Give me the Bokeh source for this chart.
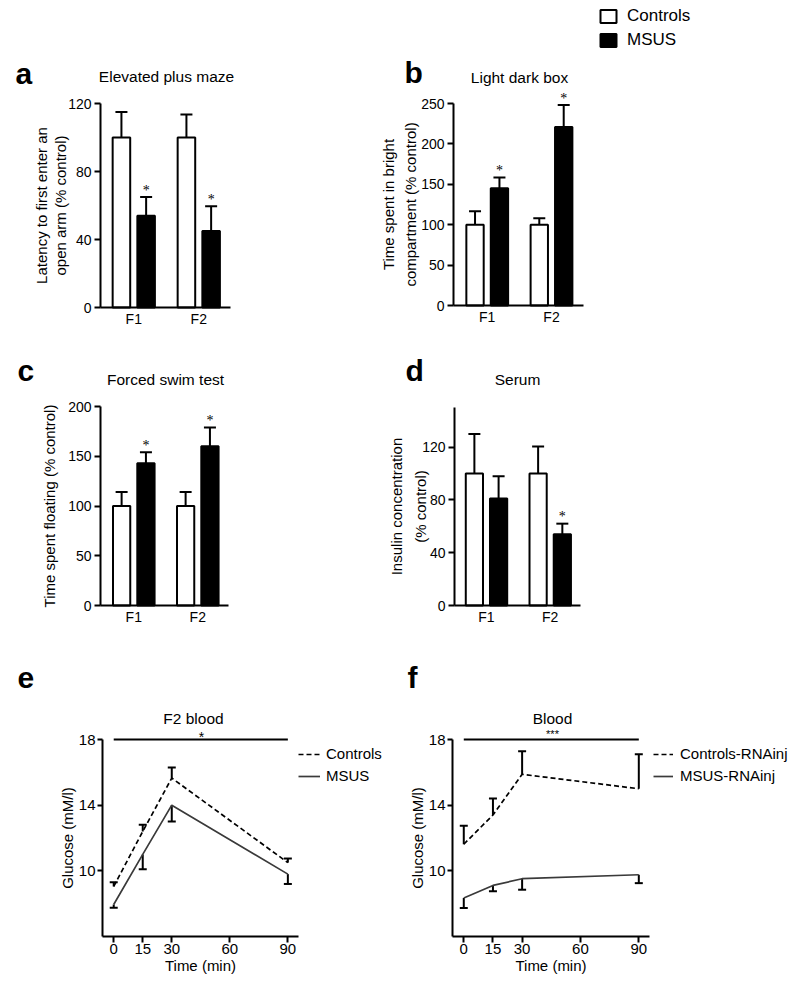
import numpy as np
from bokeh.plotting import figure
from bokeh.layouts import column, row
from bokeh.models import (ColumnDataSource, Whisker, TeeHead, LabelSet, Label, FixedTicker,
                          Legend, LegendItem, Range1d)
from bokeh.core.properties import value
from bokeh.embed import file_html
from bokeh.resources import INLINE

FONT = "Liberation Sans"

# ---------------- data ----------------
groups = ["F1", "F2"]

a_ctrl = [100, 100]
a_ctrl_sem = [15, 13.5]
a_msus = [54, 45]
a_msus_sem = [11, 14.5]
a_sig = ["*", "*"]

b_ctrl = [100, 100]
b_ctrl_sem = [16.5, 8]
b_msus = [145, 221]
b_msus_sem = [13.5, 27]
b_sig = ["*", "*"]

c_ctrl = [100, 100]
c_ctrl_sem = [14, 14]
c_msus = [143, 160]
c_msus_sem = [11, 19]
c_sig = ["*", "*"]

d_ctrl = [100, 100]
d_ctrl_sem = [30, 20.5]
d_msus = [81, 54]
d_msus_sem = [17, 8]
d_sig = ["", "*"]

time_min = [0, 15, 30, 90]
e_ctrl = [9.05, 12.4, 15.65, 10.5]
e_ctrl_sem = [0.25, 0.4, 0.65, 0.25]
e_msus = [7.95, 11.0, 14.0, 9.8]
e_msus_sem = [0.2, 0.9, 1.0, 0.6]

f_ctrl = [11.62, 13.4, 15.88, 15.0]
f_ctrl_sem = [1.13, 1.0, 1.4, 2.1]
f_msus = [8.34, 9.11, 9.52, 9.76]
f_msus_sem = [0.6, 0.36, 0.67, 0.51]

# ---------------- geometry (screen px) ----------------
CANVAS = {
    "a": (0, 0, 358, 333), "b": (358, 0, 440, 333),
    "c": (0, 333, 358, 305), "d": (358, 333, 440, 305),
    "e": (0, 638, 398, 345), "f": (398, 638, 400, 345),
}
FRAME = {
    "a": dict(left=100, top=103, w=130, h=204, xr=(0.488, 2.488), yr=(0, 120)),
    "b": dict(left=453, top=103, w=130, h=202, xr=(0.475, 2.498), yr=(0, 250)),
    "c": dict(left=100, top=406, w=128, h=199, xr=(0.48, 2.48), yr=(0, 200)),
    "d": dict(left=454, top=407, w=126, h=198, xr=(0.498, 2.475), yr=(0, 150)),
    "e": dict(left=102, top=739, w=196, h=197, xr=(-5.8, 95.5), yr=(6, 18)),
    "f": dict(left=452, top=739, w=197, h=197, xr=(-5.8, 95.5), yr=(6, 18)),
}


def dx(k, sx):
    g = FRAME[k]
    return g["xr"][0] + (sx - g["left"]) / g["w"] * (g["xr"][1] - g["xr"][0])


def dy(k, sy):
    g = FRAME[k]
    return g["yr"][1] - (sy - g["top"]) / g["h"] * (g["yr"][1] - g["yr"][0])


def base_fig(k, tick_size):
    cx, cy, cw, ch = CANVAS[k]
    g = FRAME[k]
    p = figure(width=cw, height=ch, min_border=0, title=None,
               x_range=Range1d(dx(k, cx), dx(k, cx + cw)),
               y_range=Range1d(dy(k, cy + ch), dy(k, cy)),
               output_backend="svg", toolbar_location=None, tools="")
    p.outline_line_color = None
    p.grid.visible = False
    p.background_fill_color = "white"
    p.border_fill_color = "white"
    p.xaxis[0].fixed_location = g["yr"][0]
    p.xaxis[0].bounds = g["xr"]
    p.yaxis[0].fixed_location = g["xr"][0]
    p.yaxis[0].bounds = g["yr"]
    for ax in (p.xaxis[0], p.yaxis[0]):
        ax.axis_line_width = 2
        ax.axis_line_color = "black"
        ax.major_tick_line_width = 2
        ax.major_tick_line_color = "black"
        ax.major_tick_in = 0
        ax.minor_tick_line_color = None
        ax.major_label_text_font = FONT
        ax.major_label_text_font_size = tick_size
        ax.major_label_text_color = "black"
        ax.axis_label_text_font = FONT
        ax.axis_label_text_font_size = "15px"
        ax.axis_label_text_font_style = "normal"
        ax.axis_label_text_color = "black"
    p.yaxis[0].major_tick_out = 6
    p.yaxis[0].major_label_standoff = 3
    return p


def add_text(p, k, sx, sy, text, size, bold=False, align="center", baseline="middle"):
    p.add_layout(Label(x=dx(k, sx), y=dy(k, sy), text=text, text_font=FONT,
                       text_font_size=size, text_font_style="bold" if bold else "normal",
                       text_align=align, text_baseline=baseline, text_color="black"))


OFF = 0.19
BW = 0.27


def bar_panel(k, ctrl, ctrl_sem, msus, msus_sem, sig, yticks, ylabel, letter, title, lpos, tpos,
              lab_standoff, lab_lh):
    p = base_fig(k, "14px")
    xc = np.arange(1, len(groups) + 1)
    src_c = ColumnDataSource(dict(x=xc - OFF, top=ctrl,
                                  up=[m + s for m, s in zip(ctrl, ctrl_sem)]))
    src_m = ColumnDataSource(dict(x=xc + OFF, top=msus,
                                  up=[m + s for m, s in zip(msus, msus_sem)], sig=sig))
    rc = p.vbar(x="x", top="top", bottom=0, width=BW, source=src_c,
                fill_color="white", line_color="black", line_width=2)
    rm = p.vbar(x="x", top="top", bottom=0, width=BW, source=src_m,
                fill_color="black", line_color="black", line_width=2)
    for src in (src_c, src_m):
        p.add_layout(Whisker(base="x", lower="top", upper="up", source=src,
                             upper_head=TeeHead(size=12, line_width=2, line_color="black"),
                             lower_head=None, line_width=2, line_color="black"))
    p.add_layout(LabelSet(x="x", y="up", text="sig", source=src_m, y_offset=7,
                          text_align="center", text_baseline="middle",
                          text_font=FONT, text_font_size="14px", text_color="#000000"))
    p.xaxis[0].ticker = FixedTicker(ticks=list(xc))
    p.xaxis[0].major_label_overrides = {int(i): g for i, g in zip(xc, groups)}
    p.xaxis[0].major_tick_out = 0
    p.xaxis[0].major_label_standoff = 3
    p.yaxis[0].ticker = FixedTicker(ticks=yticks)
    p.yaxis[0].axis_label = ylabel
    p.yaxis[0].axis_label_standoff = lab_standoff
    p.yaxis[0].axis_label_text_line_height = lab_lh
    add_text(p, k, lpos[0], lpos[1], letter, "30px", bold=True, align="left", baseline="alphabetic")
    add_text(p, k, tpos[0], tpos[1], title, "15.5px")
    return p, rc, rm


pa, _, _ = bar_panel("a", a_ctrl, a_ctrl_sem, a_msus, a_msus_sem, a_sig, [0, 40, 80, 120],
                     "Latency to first enter an\nopen arm (% control)", "a", "Elevated plus maze",
                     (15, 73), (166, 76), -4, 1.1)
pb, rcb, rmb = bar_panel("b", b_ctrl, b_ctrl_sem, b_msus, b_msus_sem, b_sig, [0, 50, 100, 150, 200, 250],
                         "Time spent in bright\ncompartment (% control)", "b", "Light dark box",
                         (404, 72), (519, 77), -1, 1.3)
pc, _, _ = bar_panel("c", c_ctrl, c_ctrl_sem, c_msus, c_msus_sem, c_sig, [0, 50, 100, 150, 200],
                     "Time spent floating (% control)", "c", "Forced swim test",
                     (17, 370), (165, 379), 7, 1.2)
pd_, _, _ = bar_panel("d", d_ctrl, d_ctrl_sem, d_msus, d_msus_sem, d_sig, [0, 40, 80, 120],
                      "Insulin concentration\n(% control)", "d", "Serum",
                      (405, 370), (517, 379), -10, 1.4)

# bar legend (Controls / MSUS) in panel b
cbx, cby, cbw, cbh = CANVAS["b"]
leg_b = Legend(items=[LegendItem(label=value("Controls"), renderers=[rcb]),
                      LegendItem(label=value("MSUS"), renderers=[rmb])],
               location=(598 - cbx, cby + cbh - 50),
               glyph_width=20, glyph_height=16, label_height=16, spacing=4,
               label_standoff=9, padding=0, margin=0,
               border_line_color=None, background_fill_alpha=0,
               label_text_font=FONT, label_text_font_size="17px", label_text_color="black")
pb.add_layout(leg_b)


def line_panel(k, ctrl, ctrl_sem, msus, msus_sem, names, letter, title, stars,
               lpos, tpos, spos, star_size, leg_x, glyph_w, standoff):
    p = base_fig(k, "15px")
    ytop = FRAME[k]["yr"][1]
    p.line([time_min[0], time_min[-1]], [ytop, ytop], line_color="black", line_width=2)
    rc = p.line(time_min, ctrl, line_dash="5 3", line_color="black", line_width=1.7)
    rm = p.line(time_min, msus, line_color="#3a3a3a", line_width=1.7)
    src_c = ColumnDataSource(dict(t=time_min, lo=ctrl,
                                  hi=[m + s for m, s in zip(ctrl, ctrl_sem)]))
    src_m = ColumnDataSource(dict(t=time_min, lo=[m - s for m, s in zip(msus, msus_sem)],
                                  hi=msus))
    p.add_layout(Whisker(base="t", lower="lo", upper="hi", source=src_c,
                         upper_head=TeeHead(size=8, line_width=2, line_color="black"),
                         lower_head=None, line_width=2, line_color="black"))
    p.add_layout(Whisker(base="t", lower="lo", upper="hi", source=src_m,
                         lower_head=TeeHead(size=8, line_width=2, line_color="black"),
                         upper_head=None, line_width=2, line_color="black"))
    p.xaxis[0].ticker = FixedTicker(ticks=[0, 15, 30, 60, 90])
    p.xaxis[0].major_tick_out = 6
    p.xaxis[0].major_label_standoff = 1
    p.xaxis[0].axis_label = "Time (min)"
    p.xaxis[0].axis_label_standoff = 0
    p.yaxis[0].ticker = FixedTicker(ticks=[10, 14, 18])
    p.yaxis[0].major_tick_out = 5
    p.yaxis[0].major_label_standoff = 2
    p.yaxis[0].axis_label = "Glucose (mM/l)"
    p.yaxis[0].axis_label_standoff = 0
    add_text(p, k, lpos[0], lpos[1], letter, "30px", bold=True, align="left", baseline="alphabetic")
    add_text(p, k, tpos[0], tpos[1], title, "15.5px")
    add_text(p, k, spos[0], spos[1], stars, star_size)
    cx, cy, cw, ch = CANVAS[k]
    leg = Legend(items=[LegendItem(label=value(names[0]), renderers=[rc]),
                        LegendItem(label=value(names[1]), renderers=[rm])],
                 location=(leg_x - cx, cy + ch - 784),
                 glyph_width=glyph_w, glyph_height=16, label_height=16, spacing=5,
                 label_standoff=standoff, padding=0, margin=0,
                 border_line_color=None, background_fill_alpha=0,
                 label_text_font=FONT, label_text_font_size="15px", label_text_color="black")
    p.add_layout(leg)
    return p


pe = line_panel("e", e_ctrl, e_ctrl_sem, e_msus, e_msus_sem, ["Controls", "MSUS"], "e", "F2 blood", "*",
                (17, 677), (193, 718), (201, 736), "14px", 298, 22, 6)
pf = line_panel("f", f_ctrl, f_ctrl_sem, f_msus, f_msus_sem, ["Controls-RNAinj", "MSUS-RNAinj"], "f",
                "Blood", "***", (407, 677), (552, 718), (552, 733), "11px", 653, 20, 7)

layout = column(row(pa, pb, spacing=0), row(pc, pd_, spacing=0), row(pe, pf, spacing=0), spacing=0)

open("out.html", "w").write(file_html(layout, INLINE))
